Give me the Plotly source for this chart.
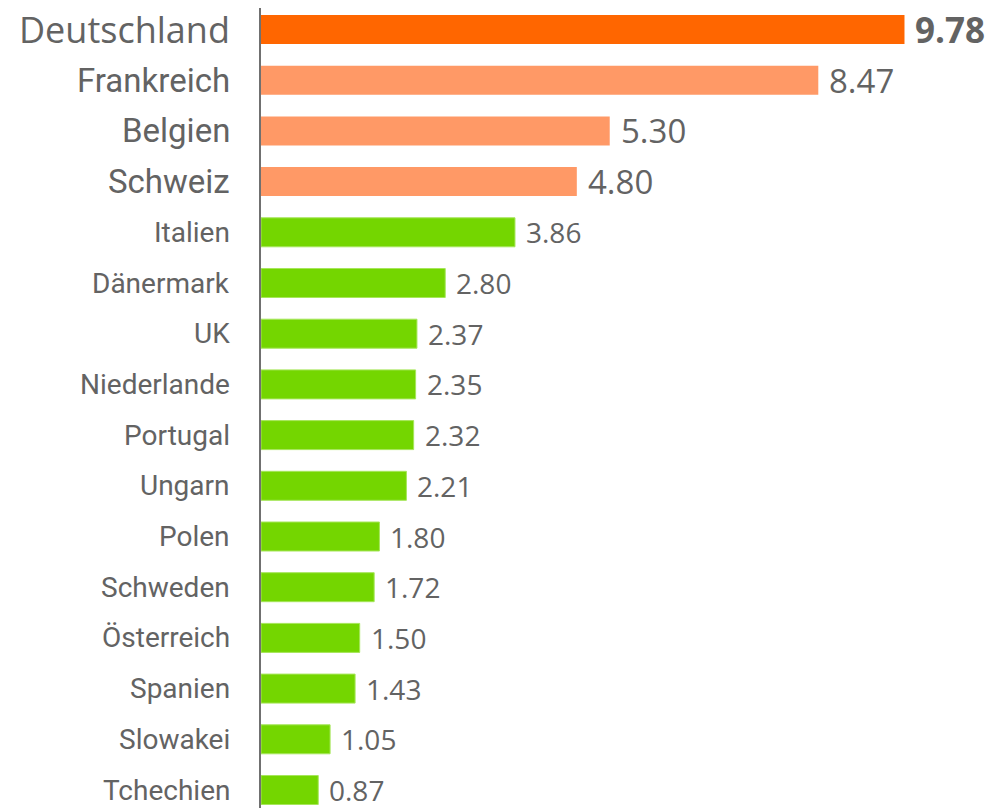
import plotly.graph_objects as go

countries = ["Deutschland", "Frankreich", "Belgien", "Schweiz", "Italien", "Dänermark", "UK",
             "Niederlande", "Portugal", "Ungarn", "Polen", "Schweden", "Österreich", "Spanien",
             "Slowakei", "Tchechien"]
values = [9.78, 8.47, 5.30, 4.80, 3.86, 2.80, 2.37, 2.35, 2.32, 2.21, 1.80, 1.72, 1.50, 1.43, 1.05, 0.87]
value_labels = ["9.78", "8.47", "5.30", "4.80", "3.86", "2.80", "2.37", "2.35", "2.32", "2.21",
                "1.80", "1.72", "1.50", "1.43", "1.05", "0.87"]
groups = ["top", "high", "high", "high"] + ["other"] * 12

color_map = {"top": "#FF6600", "high": "#FF9966", "other": "#74D600"}
label_font = {"top": dict(family="Open Sans", size=36, color="#636363"),
              "high": dict(family="Roboto", size=33, color="#636363"),
              "other": dict(family="Roboto", size=28, color="#636363")}
value_font = {"top": dict(family="Open Sans", size=35, color="#636363", weight="bold"),
              "high": dict(family="Open Sans", size=33, color="#636363"),
              "other": dict(family="Open Sans", size=28, color="#636363")}

fig = go.Figure()
fig.add_trace(go.Bar(
    x=values,
    y=countries,
    orientation="h",
    marker=dict(color=[color_map[g] for g in groups],
                line=dict(color=["rgba(0,0,0,0)" if g != "other" else "#A6E65A" for g in groups], width=1)),
    width=0.572,
    hoverinfo="skip",
))

annotations = []
for c, v, t, g in zip(countries, values, value_labels, groups):
    annotations.append(dict(x=v, y=c, xref="x", yref="y", text=t, showarrow=False,
                            xanchor="left", yanchor="middle", xshift=9, font=value_font[g]))
    annotations.append(dict(x=0, y=c, xref="paper", yref="y", text=c, showarrow=False,
                            xanchor="right", yanchor="middle", xshift=-29, font=label_font[g]))

fig.update_layout(
    width=986, height=800,
    margin=dict(l=253, r=2, t=0, b=0),
    paper_bgcolor="white", plot_bgcolor="white",
    showlegend=False,
    annotations=annotations,
    xaxis=dict(range=[0, 11.11], visible=False, showgrid=False, zeroline=False),
    yaxis=dict(categoryorder="array", categoryarray=countries, range=[15.355, -0.424],
               showticklabels=False, showgrid=False, zeroline=False, ticks="",
               showline=True, linecolor="#707070", linewidth=2),
)

fig.write_html("out.html")
